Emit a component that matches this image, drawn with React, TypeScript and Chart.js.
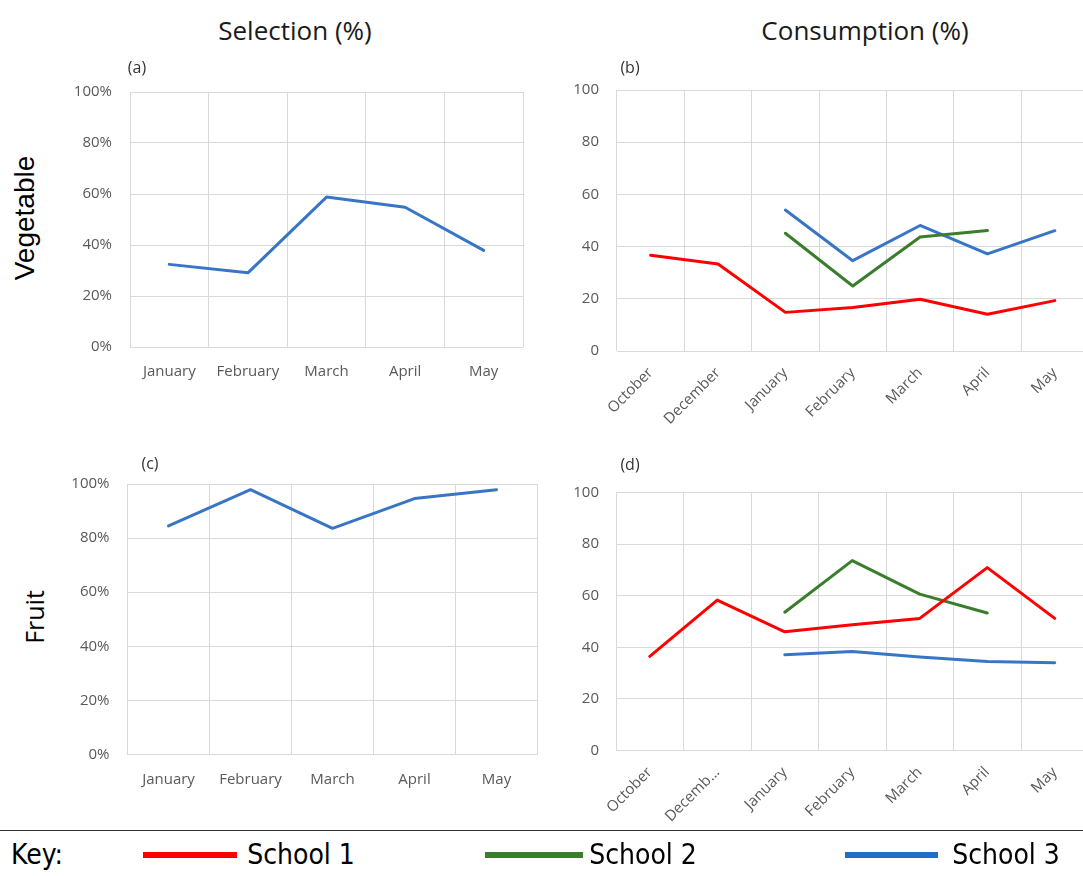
import React, { useEffect, useRef } from "react";
import { Chart, registerables } from "chart.js";

Chart.register(...registerables);

// ---------- data ----------
const selectionMonths = ["January", "February", "March", "April", "May"];
const consumptionMonthsVeg = ["October", "December", "January", "February", "March", "April", "May"];
const consumptionMonthsFruit = ["October", "Decemb...", "January", "February", "March", "April", "May"];

const vegSelection = [32.4, 29.1, 58.8, 54.8, 37.9];
const fruitSelection = [84.5, 97.9, 83.6, 94.6, 97.9];

const vegSchool1 = [36.7, 33.3, 14.8, 16.7, 19.8, 14.1, 19.3];
const vegSchool2 = [null, null, 45.1, 24.9, 43.7, 46.2, null];
const vegSchool3 = [null, null, 54.0, 34.6, 48.1, 37.2, 46.1];

const fruitSchool1 = [36.5, 58.3, 46.0, 48.7, 51.2, 70.9, 51.2];
const fruitSchool2 = [null, null, 53.6, 73.6, 60.6, 53.3, null];
const fruitSchool3 = [null, null, 37.1, 38.4, 36.2, 34.5, 34.0];

const seriesNames = ["School 1", "School 2", "School 3"];
const axisMin = 0;
const axisMax = 100;
const axisStep = 20;

// ---------- styles ----------
const RED = "#FF0000";
const GREEN = "#3A7D2C";
const BLUE = "#3876C5";
const GRID = "#D9D9D9";
const TICK = "#595959";
const FONT = "'Open Sans', 'Noto Sans', sans-serif";
const TICK_SIZE = 15;

type Rect = { x: number; y: number; w: number; h: number };
type Plot = { left: number; top: number; right: number; bottom: number };
type Series = { label: string; data: (number | null)[]; color: string };

type Panel = {
  canvas: Rect;
  plot: Plot;
  labels: string[];
  series: Series[];
  percent: boolean;
  rotation: number;
  xPad: number;
  yPad: number;
};

const panels: Panel[] = [
  {
    canvas: { x: 60, y: 58, w: 478, h: 330 },
    plot: { left: 130, top: 92, right: 523, bottom: 347 },
    labels: selectionMonths,
    series: [{ label: "Selection", data: vegSelection, color: BLUE }],
    percent: true,
    rotation: 0,
    xPad: 16,
    yPad: 18,
  },
  {
    canvas: { x: 560, y: 56, w: 529, h: 388 },
    plot: { left: 617, top: 90, right: 1088.5, bottom: 351 },
    labels: consumptionMonthsVeg,
    series: [
      { label: seriesNames[0], data: vegSchool1, color: RED },
      { label: seriesNames[1], data: vegSchool2, color: GREEN },
      { label: seriesNames[2], data: vegSchool3, color: BLUE },
    ],
    percent: false,
    rotation: 45,
    xPad: 13,
    yPad: 18,
  },
  {
    canvas: { x: 60, y: 450, w: 492, h: 346 },
    plot: { left: 127.5, top: 484, right: 537.5, bottom: 754.5 },
    labels: selectionMonths,
    series: [{ label: "Selection", data: fruitSelection, color: BLUE }],
    percent: true,
    rotation: 0,
    xPad: 16,
    yPad: 18,
  },
  {
    canvas: { x: 560, y: 458, w: 529, h: 386 },
    plot: { left: 616, top: 492.5, right: 1088.5, bottom: 750.5 },
    labels: consumptionMonthsFruit,
    series: [
      { label: seriesNames[0], data: fruitSchool1, color: RED },
      { label: seriesNames[1], data: fruitSchool2, color: GREEN },
      { label: seriesNames[2], data: fruitSchool3, color: BLUE },
    ],
    percent: false,
    rotation: 45,
    xPad: 13,
    yPad: 17,
  },
];

function buildConfig(p: Panel): any {
  const padTop = p.plot.top - p.canvas.y;
  const padRight = Math.max(p.canvas.x + p.canvas.w - p.plot.right, 0);
  const yW = p.plot.left - p.canvas.x;
  const xH = p.canvas.y + p.canvas.h - p.plot.bottom;
  const font = { family: FONT, size: TICK_SIZE };
  return {
    type: "line",
    data: {
      labels: p.labels,
      datasets: p.series.map((s) => ({
        label: s.label,
        data: s.data,
        borderColor: s.color,
        backgroundColor: s.color,
        borderWidth: 3,
        pointRadius: 0,
        pointHoverRadius: 0,
        tension: 0,
        fill: false,
        spanGaps: false,
        borderJoinStyle: "round",
        borderCapStyle: "round",
      })),
    },
    options: {
      animation: false,
      responsive: false,
      maintainAspectRatio: false,
      events: [],
      layout: { padding: { top: padTop, right: padRight, left: 0, bottom: 0 } },
      plugins: { legend: { display: false }, tooltip: { enabled: false }, title: { display: false } },
      scales: {
        x: {
          type: "category",
          offset: true,
          grid: { offset: true, color: GRID, lineWidth: 1, drawTicks: false },
          border: { display: false },
          ticks: {
            font,
            color: TICK,
            padding: p.xPad,
            autoSkip: false,
            maxRotation: p.rotation,
            minRotation: p.rotation,
          },
          afterFit: (s: any) => {
            s.height = xH;
          },
        },
        y: {
          type: "linear",
          min: axisMin,
          max: axisMax,
          grid: { color: GRID, lineWidth: 1, drawTicks: false },
          border: { display: false },
          ticks: {
            stepSize: axisStep,
            font,
            color: TICK,
            padding: p.yPad,
            callback: (v: any) => (p.percent ? `${v}%` : `${v}`),
          },
          afterFit: (s: any) => {
            s.width = yW;
          },
        },
      },
    },
  };
}

function PanelChart({ panel }: { panel: Panel }) {
  const ref = useRef<HTMLCanvasElement | null>(null);
  useEffect(() => {
    if (!ref.current) return;
    const chart = new Chart(ref.current, buildConfig(panel));
    return () => chart.destroy();
  }, [panel]);
  return (
    <canvas
      ref={ref}
      width={panel.canvas.w}
      height={panel.canvas.h}
      style={{
        position: "absolute",
        left: panel.canvas.x,
        top: panel.canvas.y,
        width: panel.canvas.w,
        height: panel.canvas.h,
      }}
    />
  );
}

function Label({
  text,
  x,
  y,
  size,
  family = FONT,
  color = "#1a1a1a",
  rotate = 0,
}: {
  text: string;
  x: number;
  y: number;
  size: number;
  family?: string;
  color?: string;
  rotate?: number;
}) {
  return (
    <div
      style={{
        position: "absolute",
        left: x,
        top: y,
        transform: `translate(-50%, -50%) rotate(${rotate}deg)`,
        fontFamily: family,
        fontSize: size,
        lineHeight: 1,
        color,
        whiteSpace: "nowrap",
      }}
    >
      {text}
    </div>
  );
}

function KeyLine({ x1, x2, y, color }: { x1: number; x2: number; y: number; color: string }) {
  return (
    <div
      style={{
        position: "absolute",
        left: x1,
        top: y - 3,
        width: x2 - x1,
        height: 6,
        background: color,
      }}
    />
  );
}

const KEY_FONT = "'Liberation Sans Narrow', 'DejaVu Sans Condensed', 'Liberation Sans', sans-serif";

export default function App() {
  return (
    <div
      style={{
        position: "absolute",
        left: 0,
        top: 0,
        width: 1083,
        height: 876,
        overflow: "hidden",
        background: "#ffffff",
      }}
    >
      {panels.map((p, i) => (
        <PanelChart key={i} panel={p} />
      ))}

      <Label text="Selection (%)" x={295} y={30} size={26} />
      <Label text="Consumption (%)" x={865} y={30} size={26} />
      <Label text="Vegetable" x={25} y={218} size={28} rotate={-90} family="'Liberation Sans', Arial, sans-serif" color="#000" />
      <Label text="Fruit" x={34} y={617} size={25} rotate={-90} color="#000" />

      <Label text="(a)" x={137} y={67} size={16} color="#333" />
      <Label text="(b)" x={630} y={67} size={16} color="#333" />
      <Label text="(c)" x={150} y={463} size={16} color="#333" />
      <Label text="(d)" x={630} y={464} size={16} color="#333" />

      <div
        style={{
          position: "absolute",
          left: 0,
          top: 830,
          width: 1083,
          height: 1,
          background: "#333",
        }}
      />
      <Label text="Key:" x={37} y={855} size={28} family={KEY_FONT} color="#000" />
      <KeyLine x1={143} x2={237} y={855} color={RED} />
      <Label text="School 1" x={301} y={855} size={28} family={KEY_FONT} color="#000" />
      <KeyLine x1={485} x2={583} y={855} color={GREEN} />
      <Label text="School 2" x={643} y={855} size={28} family={KEY_FONT} color="#000" />
      <KeyLine x1={845} x2={938} y={855} color="#1F6FC8" />
      <Label text="School 3" x={1006} y={855} size={28} family={KEY_FONT} color="#000" />
    </div>
  );
}
